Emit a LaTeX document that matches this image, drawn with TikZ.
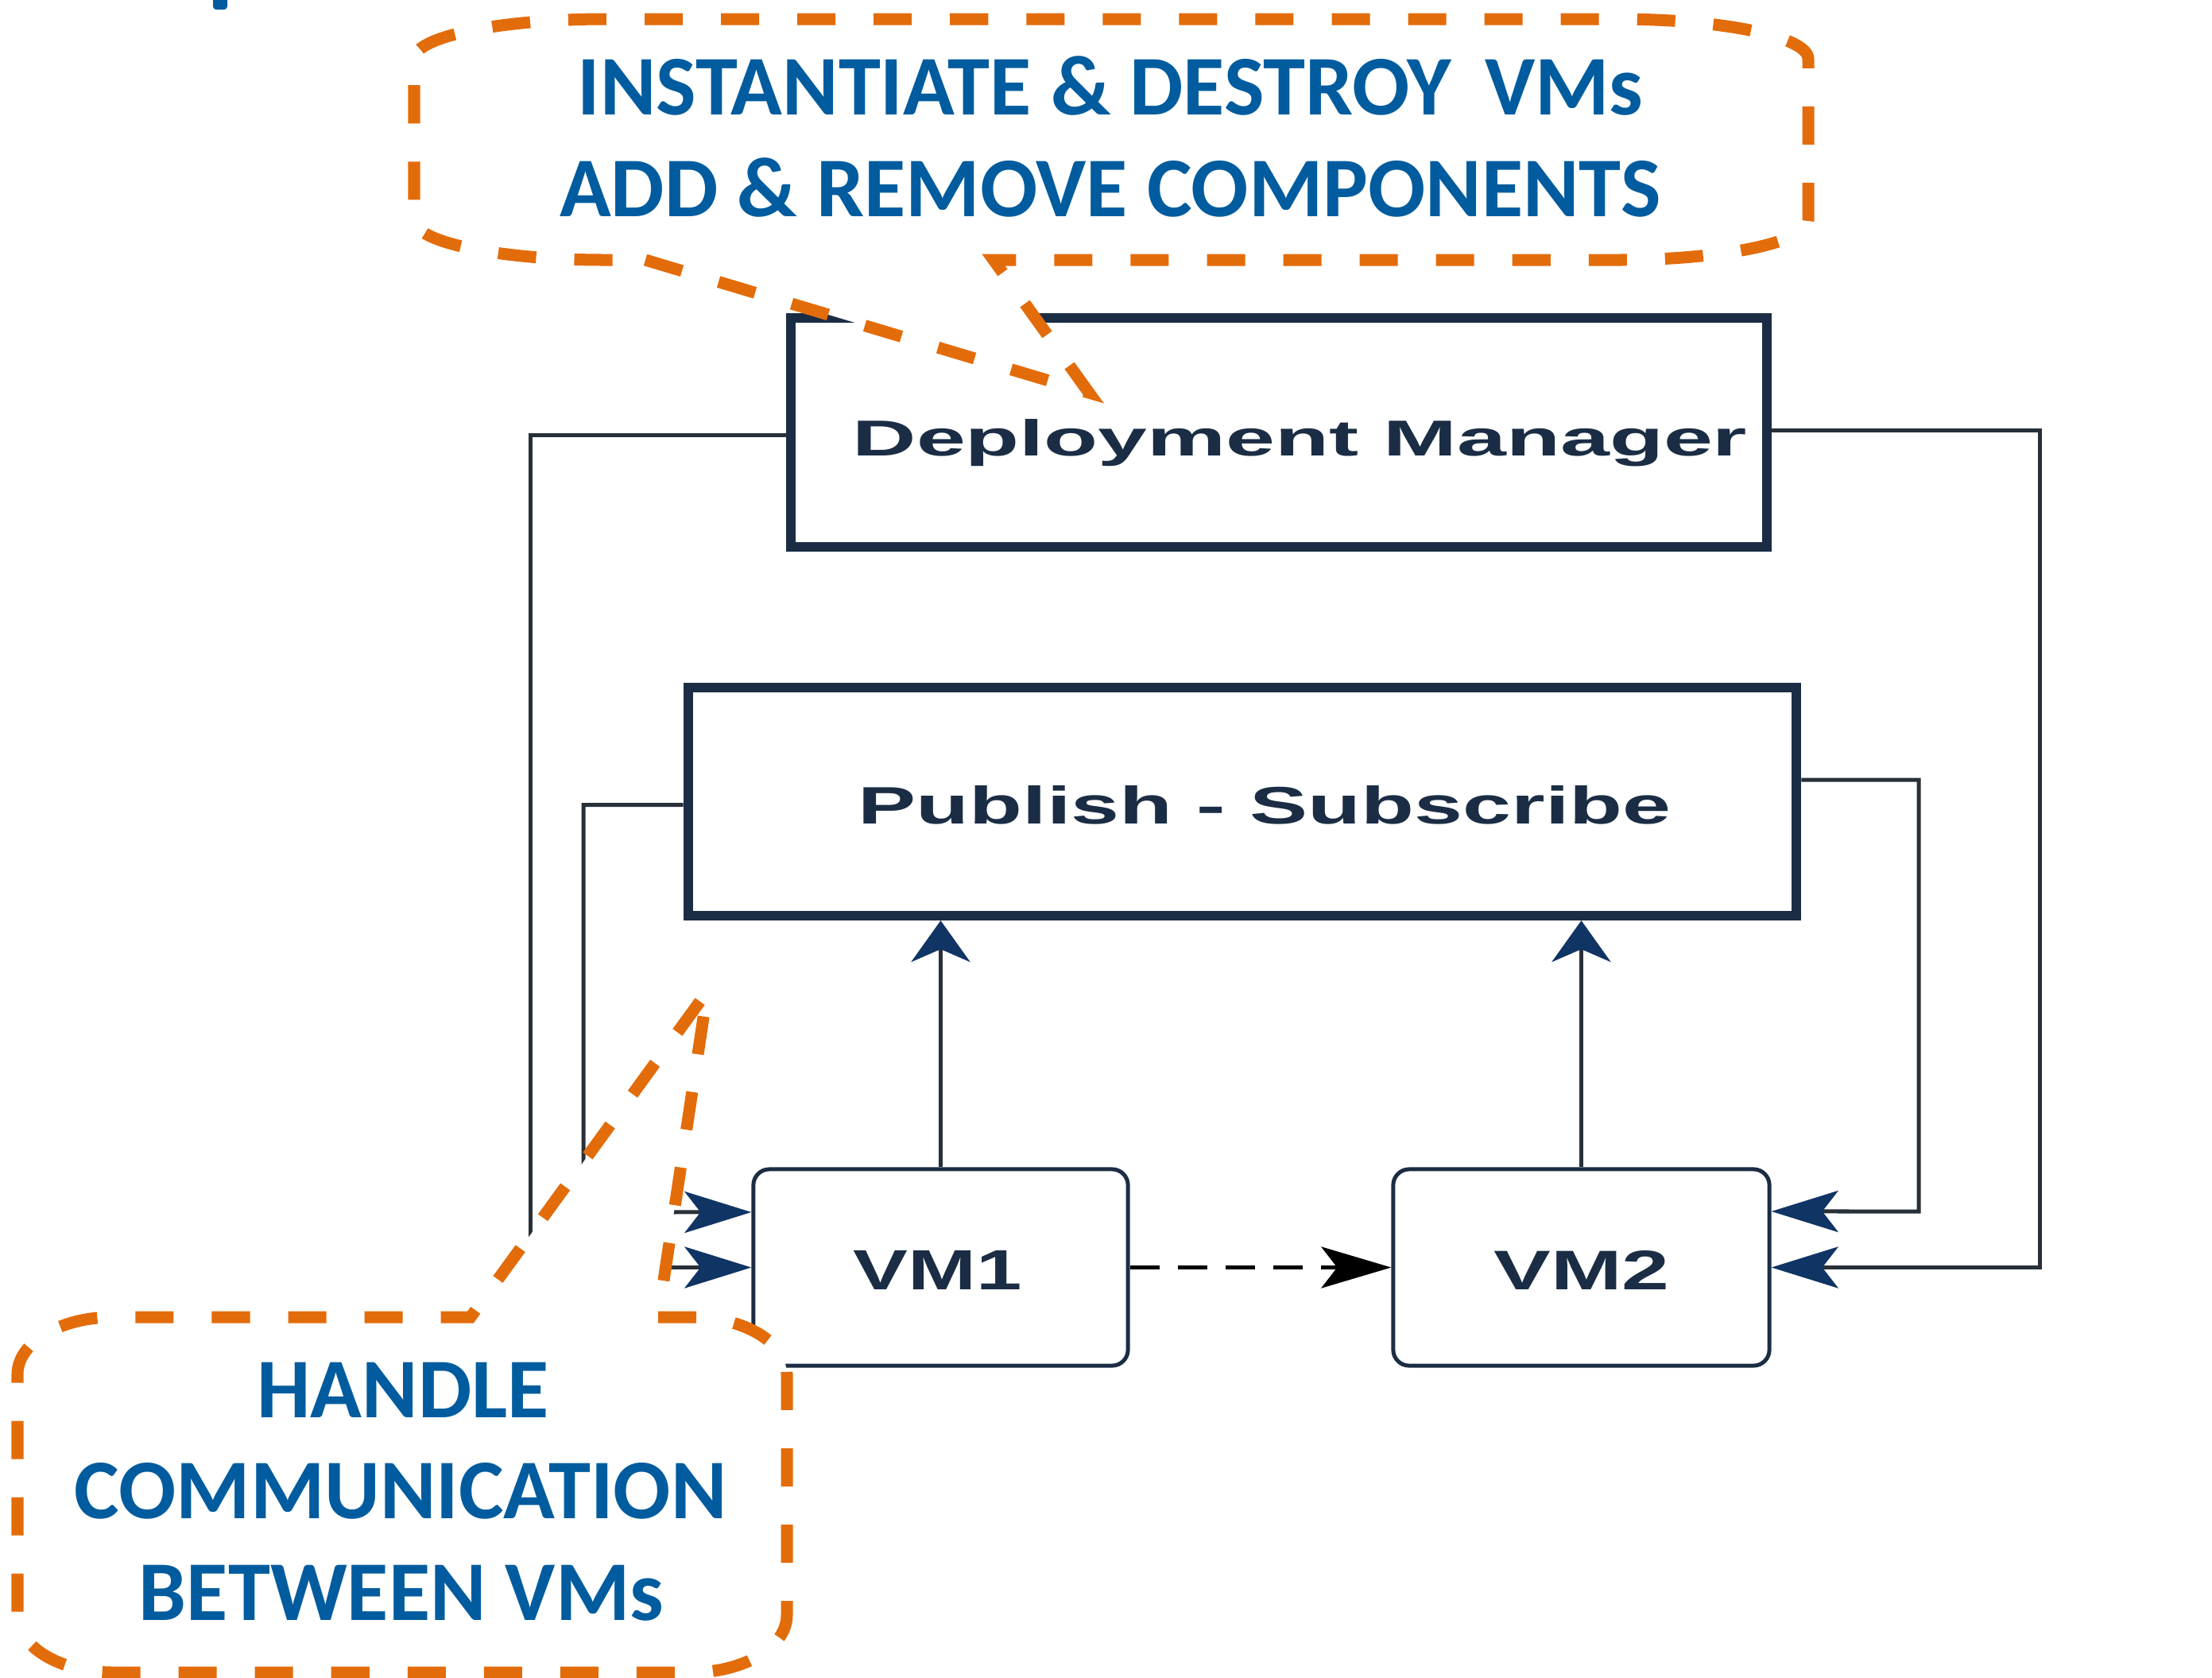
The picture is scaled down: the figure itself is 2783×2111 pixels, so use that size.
\documentclass[tikz,border=0pt]{standalone}
\usepackage{fontspec}
\usepackage{graphicx}
\setmainfont{Carlito}
\newfontfamily\diagfont{Liberation Sans}
\usetikzlibrary{arrows.meta}

\definecolor{callorange}{RGB}{227,108,10}
\definecolor{callblue}{RGB}{0,92,158}
\definecolor{boxnavy}{RGB}{27,45,68}
\definecolor{tipnavy}{RGB}{16,52,100}
\definecolor{wire}{RGB}{40,48,56}

\tikzset{
  bigbox/.style={draw=boxnavy, line width=0.12cm, inner sep=0pt},
  vmbox/.style={draw=boxnavy, line width=0.05cm, rounded corners=0.2cm, inner sep=0pt},
  wirestyle/.style={draw=wire, line width=0.05cm},
  htip/.style={-{Stealth[length=0.84cm, width=0.52cm, inset=0.2cm, color=tipnavy]}},
  vtip/.style={-{Stealth[length=0.52cm, width=0.74cm, inset=0.16cm, color=tipnavy]}},
  flowtip/.style={-{Stealth[length=0.88cm, width=0.52cm, inset=0.2cm, color=black]}},
  callout/.style={draw=callorange, fill=white, line width=0.15cm, dash pattern=on 0.48cm off 0.48cm},
  calltext/.style={font=\bfseries\fontsize{30.4}{36.4}\selectfont, text=callblue, anchor=base, inner sep=0pt},
  boxtext/.style={text=boxnavy, anchor=base, inner sep=0pt},
}

\begin{document}
\begin{tikzpicture}[x=0.01cm, y=-0.01cm]
\useasboundingbox (0,0) rectangle (2783,2111);

% tail end of a heading letter above the diagram
\fill[callblue, rounded corners=0.04cm] (268,-20) rectangle (286,12);

% ---------- component boxes ----------
\node[bigbox, minimum width=12.28cm, minimum height=2.88cm] (dm) at (1609,544) {};
\node[bigbox, minimum width=13.94cm, minimum height=2.87cm] (ps) at (1563,1008.5) {};
\node[vmbox, minimum width=4.71cm, minimum height=2.47cm] (vm1) at (1183.5,1594.5) {};
\node[vmbox, minimum width=4.73cm, minimum height=2.47cm] (vm2) at (1989.5,1594.5) {};

\node[boxtext] (dmlabel) at (1635.5,573) {\resizebox{11.25cm}{0.46cm}{\diagfont\bfseries Deployment Manager}};
\node[boxtext] (pslabel) at (1591,1036) {\resizebox{10.22cm}{0.48cm}{\diagfont\bfseries Publish - Subscribe}};
\node[boxtext] (vm1label) at (1180,1622) {\resizebox{2.12cm}{0.49cm}{\diagfont\bfseries VM1}};
\node[boxtext] (vm2label) at (1990,1622) {\resizebox{2.21cm}{0.49cm}{\diagfont\bfseries VM2}};

% ---------- connectors ----------
\draw[wirestyle, htip] ([yshift=-0.03cm]dm.west) -| (667,1594.5) -- (vm1.west);
\draw[wirestyle, htip] ([yshift=-0.04cm]ps.west) -| (734,1525) -- ([yshift=0.695cm]vm1.west);
\draw[wirestyle, htip] ([yshift=0.03cm]dm.east) -| (2566,1594.5) -- (vm2.east);
\draw[wirestyle, htip] ([yshift=0.275cm]ps.east) -| (2414,1524) -- ([yshift=0.705cm]vm2.east);
\draw[wirestyle, vtip] (vm1.north) -- (vm1.north |- ps.south);
\draw[wirestyle, vtip] (vm2.north) -- (vm2.north |- ps.south);
\draw[draw=black, line width=0.045cm, dash pattern=on 0.37cm off 0.23cm, flowtip] (vm1.east) -- (vm2.west);

% ---------- callout: deployment manager ----------
\draw[callout] (812,327) -- (1370,494) -- (1250,327) -- (2035,327)
  .. controls (2167.6,327) and (2275,304.6) .. (2275,277) -- (2275,74)
  .. controls (2275,46.4) and (2167.6,24) .. (2035,24) -- (761,24)
  .. controls (628.4,24) and (521,46.4) .. (521,74) -- (521,277)
  .. controls (521,304.6) and (628.4,327) .. (761,327) -- cycle;
\node[calltext] (topline1) at (1397,144) {INSTANTIATE \& DESTROY\hspace{0.42cm}VMs};
\node[calltext] (topline2) at (1397,272) {ADD \& REMOVE COMPONENTS};

% ---------- callout: publish-subscribe ----------
\draw[callout] (828,1657) -- (870,1657)
  .. controls (936.3,1657) and (990,1689.2) .. (990,1729) -- (990,2032)
  .. controls (990,2071.8) and (936.3,2104) .. (870,2104) -- (142,2104)
  .. controls (75.7,2104) and (22,2071.8) .. (22,2032) -- (22,1729)
  .. controls (22,1689.2) and (75.7,1657) .. (142,1657) -- (592,1657)
  -- (890,1247) -- cycle;
\node[calltext] (botline1) at (507,1783) {HANDLE};
\node[calltext] (botline2) at (504,1910) {COMMUNICATION};
\node[calltext] (botline3) at (505,2038) {BETWEEN VMs};
\end{tikzpicture}
\end{document}
